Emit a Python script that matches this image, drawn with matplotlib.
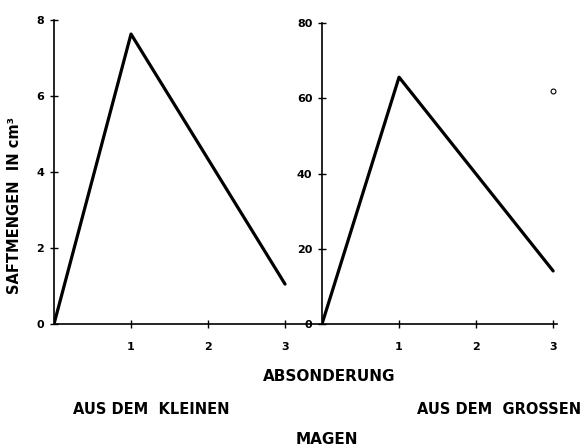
import matplotlib
matplotlib.use("Agg")
import matplotlib.pyplot as plt

# Data
x_small = [0, 1, 3]
y_small = [0, 7.63, 1.05]
x_large = [0, 1, 3]
y_large = [0, 65.6, 14.1]
stray_x = [3]
stray_y = [62]

left_yticks = [0, 2, 4, 6, 8]
right_yticks = [0, 20, 40, 60, 80]
xticks = [1, 2, 3]
xticklabels = ["1", "2", "3"]

W, H = 584, 448
fig = plt.figure(figsize=(W / 100, H / 100), dpi=100)
plt.rcParams['font.family'] = ['DejaVu Sans']

def px_axes(x0, x1, ytop, ybot):
    return fig.add_axes([x0 / W, (H - ybot) / H, (x1 - x0) / W, (ybot - ytop) / H])

axL = px_axes(54, 322, 20, 324)
axR = px_axes(322, 557, 23, 324)

lw_line = 2.3
axL.plot(x_small, y_small, color="black", lw=lw_line, solid_joinstyle="round", solid_capstyle="round")
axL.set_xlim(0, 3.48)
axL.set_ylim(0, 8)

axR.plot(x_large, y_large, color="black", lw=lw_line, solid_joinstyle="round", solid_capstyle="round")
axR.plot(stray_x, stray_y, marker="o", ms=3.5, mfc="white", mec="black", mew=0.8, ls="none", clip_on=False)
axR.set_xlim(0, 3.05)
axR.set_ylim(0, 80)

for ax, yt in ((axL, left_yticks), (axR, right_yticks)):
    ax.set_facecolor("none")
    for s in ("top", "right"):
        ax.spines[s].set_visible(False)
    ax.spines["left"].set_linewidth(1.2)
    ax.spines["bottom"].set_linewidth(1.2)
    ax.set_yticks(yt)
    ax.set_yticklabels([str(v) for v in yt], fontsize=8, fontweight="bold")
    ax.set_xticks(xticks)
    ax.set_xticklabels(xticklabels, fontsize=8, fontweight="bold")
    ax.tick_params(axis="both", direction="inout", length=6, width=1.0)
    ax.tick_params(axis="x", pad=10)
    ax.tick_params(axis="y", pad=4)

fig.text(15 / W, 1 - 205 / H, "SAFTMENGEN  IN cm³", rotation=90, ha="center", va="center",
         fontsize=10.5, fontweight="bold")

fig.text(329 / W, 1 - 376 / H, "ABSONDERUNG", ha="center", va="center", fontsize=11, fontweight="bold")
fig.text(151 / W, 1 - 409 / H, "AUS DEM  KLEINEN", ha="center", va="center", fontsize=10.5, fontweight="bold")
fig.text(499 / W, 1 - 409 / H, "AUS DEM  GROSSEN", ha="center", va="center", fontsize=10.5, fontweight="bold")
fig.text(327 / W, 1 - 439 / H, "MAGEN", ha="center", va="center", fontsize=11, fontweight="bold")

fig.savefig("out.png", dpi=100)
